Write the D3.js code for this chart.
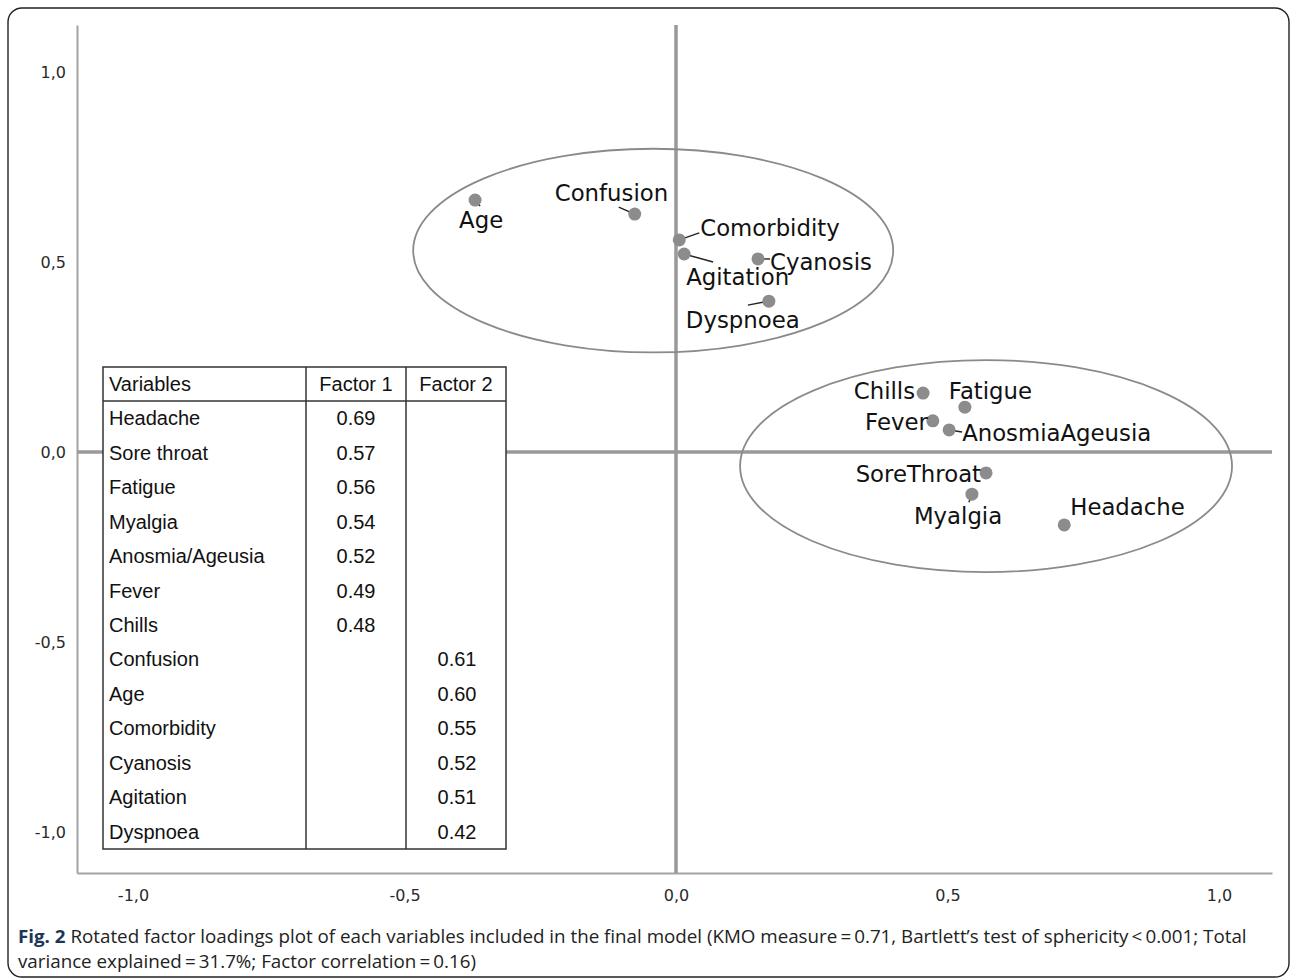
<!DOCTYPE html>
<html>
<head>
<meta charset="utf-8">
<script src="https://cdn.jsdelivr.net/npm/d3@7"></script>
<style>
    body { margin: 0; background: #fff; }
    svg { display: block; }
</style>
</head>
<body>
<div id="viz"></div>
<script>

// loadings (factor 1 = x, factor 2 = y)
const variables = ['Age', 'Confusion', 'Comorbidity', 'Agitation', 'Cyanosis', 'Dyspnoea',
    'Chills', 'Fatigue', 'Fever', 'AnosmiaAgeusia', 'SoreThroat', 'Myalgia', 'Headache'];
const factor1Loadings = [-0.370, -0.076, 0.006, 0.015, 0.151, 0.171,
    0.455, 0.532, 0.473, 0.503, 0.571, 0.545, 0.715];
const factor2Loadings = [0.663, 0.626, 0.558, 0.521, 0.508, 0.397,
    0.155, 0.118, 0.082, 0.058, -0.055, -0.111, -0.192];

// the two clusters drawn as ellipses (centre and radii in loading units)
const clusterCx = [-0.042, 0.571];
const clusterCy = [0.530, -0.037];
const clusterRx = [0.442, 0.453];
const clusterRy = [0.268, 0.279];

const axisTicks = [-1, -0.5, 0, 0.5, 1];

// inset table
const tableVars = ['Headache', 'Sore throat', 'Fatigue', 'Myalgia', 'Anosmia/Ageusia', 'Fever', 'Chills',
    'Confusion', 'Age', 'Comorbidity', 'Cyanosis', 'Agitation', 'Dyspnoea'];
const tableFactor1 = ['0.69', '0.57', '0.56', '0.54', '0.52', '0.49', '0.48', '', '', '', '', '', ''];
const tableFactor2 = ['', '', '', '', '', '', '', '0.61', '0.60', '0.55', '0.52', '0.51', '0.42'];
const tableHeader = ['Variables', 'Factor 1', 'Factor 2'];

const captionBold = 'Fig. 2';
const captionLine1 = ' Rotated factor loadings plot of each variables included in the final model (KMO measure\u2009=\u20090.71, Bartlett\u2019s test of sphericity\u2009<\u20090.001; Total';
const captionLine2 = 'variance explained\u2009=\u200931.7%; Factor correlation\u2009=\u20090.16)';

// where each label sits relative to its dot (px), plus its little leader line
const labelPlace = {
    'Age':            {dx: -16, dy: 28, anchor: 'start', lead: [5, 6]},
    'Confusion':      {dx: -80, dy: -13, anchor: 'start', lead: [-16, -7]},
    'Comorbidity':    {dx: 21, dy: -4, anchor: 'start', lead: [20, -7]},
    'Agitation':      {dx: 2, dy: 31, anchor: 'start', lead: [29, 8]},
    'Cyanosis':       {dx: 12, dy: 11, anchor: 'start', lead: [12, 0]},
    'Dyspnoea':       {dx: -83, dy: 27, anchor: 'start', lead: [-21, 4]},
    'Chills':         {dx: -8, dy: 6, anchor: 'end', lead: null},
    'Fatigue':        {dx: -16, dy: -8, anchor: 'start', lead: [-2, -6]},
    'Fever':          {dx: -5, dy: 9, anchor: 'end', lead: null},
    'AnosmiaAgeusia': {dx: 13, dy: 11, anchor: 'start', lead: [13, 2]},
    'SoreThroat':     {dx: -5, dy: 9, anchor: 'end', lead: null},
    'Myalgia':        {dx: -58, dy: 30, anchor: 'start', lead: [-3, 8]},
    'Headache':       {dx: 6, dy: -10, anchor: 'start', lead: null}
};

function drawChart() {

    const width = 1290,
        height = 979;

    const svg = d3.select('#viz').append('svg')
        .attr('width', width)
        .attr('height', height);

    // outer frame
    svg.append('rect')
        .attr('x', 8).attr('y', 8)
        .attr('width', 1281).attr('height', 969)
        .attr('rx', 14).attr('ry', 14)
        .attr('fill', '#fff')
        .attr('stroke', '#222')
        .attr('stroke-width', 1.4);

    // plot box
    const left = 77, right = 1272, top = 25, bottom = 873;

    let x = d3.scaleLinear()
        .domain([-1.1031, 1.0976])
        .range([left, right]);
    let y = d3.scaleLinear()
        .domain([-1.1079, 1.1237])
        .range([bottom, top]);

    const fmt = v => d3.format('.1f')(v).replace('.', ',').replace('\u2212', '-');

    // axes without tick marks
    let xAxis = svg.append('g')
        .attr('transform', 'translate(0,' + bottom + ')')
        .call(d3.axisBottom(x).tickValues(axisTicks).tickFormat(fmt).tickSize(0).tickPadding(17));
    let yAxis = svg.append('g')
        .attr('transform', 'translate(' + left + ',0)')
        .call(d3.axisLeft(y).tickValues(axisTicks).tickFormat(fmt).tickSize(0).tickPadding(11));

    [xAxis, yAxis].forEach(function(a) {
        a.select('.domain').attr('stroke', '#a3a3a3').attr('stroke-width', 2);
        a.selectAll('text')
            .attr('fill', '#2a2a2a')
            .style('font-family', '"DejaVu Sans", Verdana, sans-serif')
            .style('font-size', '16px');
    });

    // zero reference lines
    svg.append('line')
        .attr('x1', x(0)).attr('x2', x(0))
        .attr('y1', top).attr('y2', bottom)
        .attr('stroke', '#999').attr('stroke-width', 3.5);
    svg.append('line')
        .attr('x1', left).attr('x2', right)
        .attr('y1', y(0)).attr('y2', y(0))
        .attr('stroke', '#999').attr('stroke-width', 3.5);

    // cluster ellipses
    svg.selectAll('.cluster')
        .data(clusterCx)
        .enter().append('ellipse')
        .attr('class', 'cluster')
        .attr('cx', function(d) { return x(d); })
        .attr('cy', function(d, i) { return y(clusterCy[i]); })
        .attr('rx', function(d, i) { return x(clusterRx[i]) - x(0); })
        .attr('ry', function(d, i) { return y(0) - y(clusterRy[i]); })
        .attr('fill', 'none')
        .attr('stroke', '#8a8a8a')
        .attr('stroke-width', 1.8);

    const points = variables.map(function(v, i) {
        return {name: v, fx: factor1Loadings[i], fy: factor2Loadings[i]};
    });

    // leader lines
    svg.selectAll('.lead')
        .data(points.filter(function(d) { return labelPlace[d.name].lead; }))
        .enter().append('line')
        .attr('class', 'lead')
        .attr('x1', function(d) { return x(d.fx); })
        .attr('y1', function(d) { return y(d.fy); })
        .attr('x2', function(d) { return x(d.fx) + labelPlace[d.name].lead[0]; })
        .attr('y2', function(d) { return y(d.fy) + labelPlace[d.name].lead[1]; })
        .attr('stroke', '#222')
        .attr('stroke-width', 1.4);

    svg.selectAll('.dot')
        .data(points)
        .enter().append('circle')
        .attr('class', 'dot')
        .attr('cx', function(d) { return x(d.fx); })
        .attr('cy', function(d) { return y(d.fy); })
        .attr('r', 6.5)
        .attr('fill', '#8c8c8c');

    svg.selectAll('.lbl')
        .data(points)
        .enter().append('text')
        .attr('class', 'lbl')
        .attr('x', function(d) { return x(d.fx) + labelPlace[d.name].dx; })
        .attr('y', function(d) { return y(d.fy) + labelPlace[d.name].dy; })
        .attr('text-anchor', function(d) { return labelPlace[d.name].anchor; })
        .attr('fill', '#111')
        .style('font-family', '"DejaVu Sans", Verdana, sans-serif')
        .style('font-size', '22.8px')
        .text(function(d) { return d.name; });

    drawTable(svg);
    drawCaption(svg);
}

function drawTable(svg) {

    const tLeft = 103, tRight = 506, tTop = 367, headBottom = 401, tBottom = 849;
    const colEdges = [103, 306, 406, 506];

    let rowY = d3.scaleBand()
        .domain(tableVars)
        .range([headBottom, tBottom]);

    let g = svg.append('g')
        .style('font-family', '"Liberation Sans", Arial, Helvetica, sans-serif')
        .style('font-size', '20px')
        .attr('fill', '#111');

    g.append('rect')
        .attr('x', tLeft).attr('y', tTop)
        .attr('width', tRight - tLeft).attr('height', tBottom - tTop)
        .attr('fill', '#fff')
        .attr('stroke', '#333')
        .attr('stroke-width', 1.5);

    g.append('line')
        .attr('x1', tLeft).attr('x2', tRight)
        .attr('y1', headBottom).attr('y2', headBottom)
        .attr('stroke', '#333').attr('stroke-width', 1.5);

    g.selectAll('.colLine')
        .data(colEdges.slice(1, 3))
        .enter().append('line')
        .attr('class', 'colLine')
        .attr('x1', function(d) { return d; }).attr('x2', function(d) { return d; })
        .attr('y1', tTop).attr('y2', tBottom)
        .attr('stroke', '#333').attr('stroke-width', 1.5);

    // header
    g.selectAll('.head')
        .data(tableHeader)
        .enter().append('text')
        .attr('class', 'head')
        .attr('x', function(d, i) { return i == 0 ? tLeft + 6 : (colEdges[i] + colEdges[i + 1]) / 2; })
        .attr('y', (tTop + headBottom) / 2)
        .attr('dy', '0.35em')
        .attr('text-anchor', function(d, i) { return i == 0 ? 'start' : 'middle'; })
        .text(function(d) { return d; });

    let rows = g.selectAll('.row')
        .data(tableVars)
        .enter().append('g')
        .attr('class', 'row')
        .attr('transform', function(d) { return 'translate(0,' + (rowY(d) + rowY.bandwidth() / 2) + ')'; });

    rows.append('text')
        .attr('x', tLeft + 6)
        .attr('dy', '0.35em')
        .text(function(d) { return d; });

    rows.append('text')
        .attr('x', (colEdges[1] + colEdges[2]) / 2)
        .attr('dy', '0.35em')
        .attr('text-anchor', 'middle')
        .text(function(d, i) { return tableFactor1[i]; });

    rows.append('text')
        .attr('x', (colEdges[2] + colEdges[3]) / 2 + 1)
        .attr('dy', '0.35em')
        .attr('text-anchor', 'middle')
        .text(function(d, i) { return tableFactor2[i]; });
}

function drawCaption(svg) {

    const capX = 18;

    let cap = svg.append('g')
        .style('font-family', '"Open Sans", "Noto Sans", sans-serif')
        .style('font-size', '18px')
        .attr('fill', '#222');

    let line1 = cap.append('text').attr('x', 0).attr('y', 0);
    line1.append('tspan')
        .attr('font-weight', 'bold')
        .attr('fill', '#1d3557')
        .text(captionBold);
    line1.append('tspan').text(captionLine1);

    let line2 = cap.append('text').attr('x', 0).attr('y', 25).text(captionLine2);

    // squeeze to the narrow caption face
    const w = line1.node().getComputedTextLength();
    const sx = 1230 / w;
    cap.attr('transform', 'translate(' + capX + ',943) scale(' + sx + ',1)');
}

drawChart();

</script>
</body>
</html>
